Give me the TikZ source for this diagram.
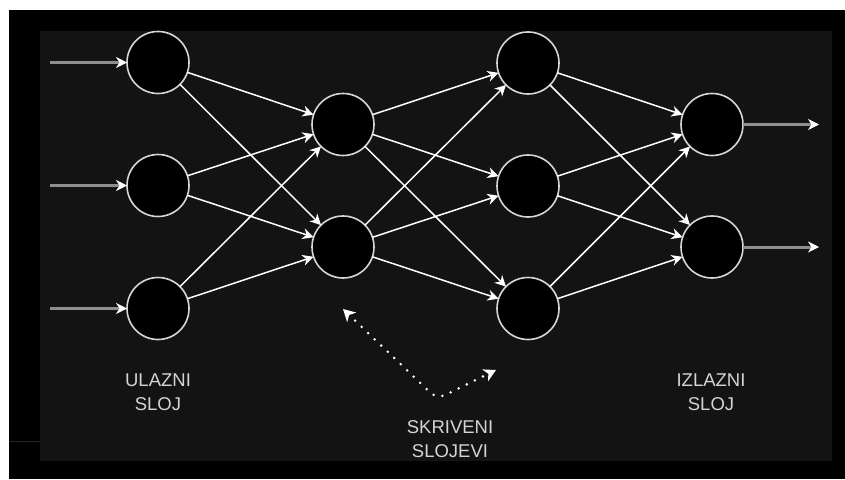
\documentclass[tikz,border=0pt]{standalone}
\usepackage{fontspec}
\setmainfont{Liberation Sans}
\usetikzlibrary{arrows.meta}
\definecolor{panel}{HTML}{131313}
\definecolor{ring}{HTML}{D6D6D6}
\definecolor{txt}{HTML}{D4D4D4}
\definecolor{feed}{HTML}{8F8F8F}
\tikzset{
  neuron/.style={circle,draw=ring,line width=1.6pt,fill=black,minimum size=62pt,inner sep=0pt,outer sep=0pt},
  link/.style={draw=white,line width=1.5pt,-{Stealth[length=11pt,width=11pt,inset=3.5pt]}},
  feedline/.style={draw=feed,line width=3pt,-{Stealth[length=11pt,width=11pt,inset=3.5pt,color=white]}},
  label/.style={text=txt,font=\fontsize{18.5}{24}\selectfont,align=center},
  hint/.style={draw=white,line width=2.8pt,dash pattern=on 0pt off 9pt,line cap=round,rounded corners=9pt,
    {Stealth[length=12pt,width=13pt,inset=3.5pt]}-{Stealth[length=12pt,width=13pt,inset=3.5pt]}}
}
\begin{document}
\begin{tikzpicture}[x=1pt,y=-1pt]
\useasboundingbox (0,0) rectangle (845,479);
\fill[white] (0,0) rectangle (845,479);
\fill[black] (9,10) rectangle (845,479);
\draw[black!85!white,line width=0.6pt] (9,441) -- (40,441);
\fill[panel] (40,31) rectangle (832,461);

\node[neuron] (i1) at (158,62.5) {};
\node[neuron] (i2) at (158,185.5) {};
\node[neuron] (i3) at (158,308.5) {};
\node[neuron] (a1) at (343,124.5) {};
\node[neuron] (a2) at (343,247) {};
\node[neuron] (b1) at (528,63) {};
\node[neuron] (b2) at (528,186) {};
\node[neuron] (b3) at (528,308.5) {};
\node[neuron] (o1) at (712,124.5) {};
\node[neuron] (o2) at (712,247) {};

\coordinate (s1) at (50,62.5);
\coordinate (s2) at (50,185.5);
\coordinate (s3) at (50,308.5);
\coordinate (t1) at (819,124.5);
\coordinate (t2) at (819,247);

\foreach \n in {1,2,3} \draw[feedline] (s\n) -- (i\n);
\draw[feedline] (o1) -- (t1);
\draw[feedline] (o2) -- (t2);

\foreach \u in {i1,i2,i3} \foreach \v in {a1,a2} \draw[link] (\u) -- (\v);
\foreach \u in {a1,a2} \foreach \v in {b1,b2,b3} \draw[link] (\u) -- (\v);
\foreach \u in {b1,b2,b3} \foreach \v in {o1,o2} \draw[link] (\u) -- (\v);

\coordinate (d1) at (343,309);
\coordinate (d2) at (437,399);
\coordinate (d3) at (496,370);
\draw[hint] (d1) -- (d2) -- (d3);

\node[label] (l1) at (158,392) {ULAZNI\\SLOJ};
\node[label] (l2) at (450,439) {SKRIVENI\\SLOJEVI};
\node[label] (l3) at (711,392) {IZLAZNI\\SLOJ};
\end{tikzpicture}
\end{document}
